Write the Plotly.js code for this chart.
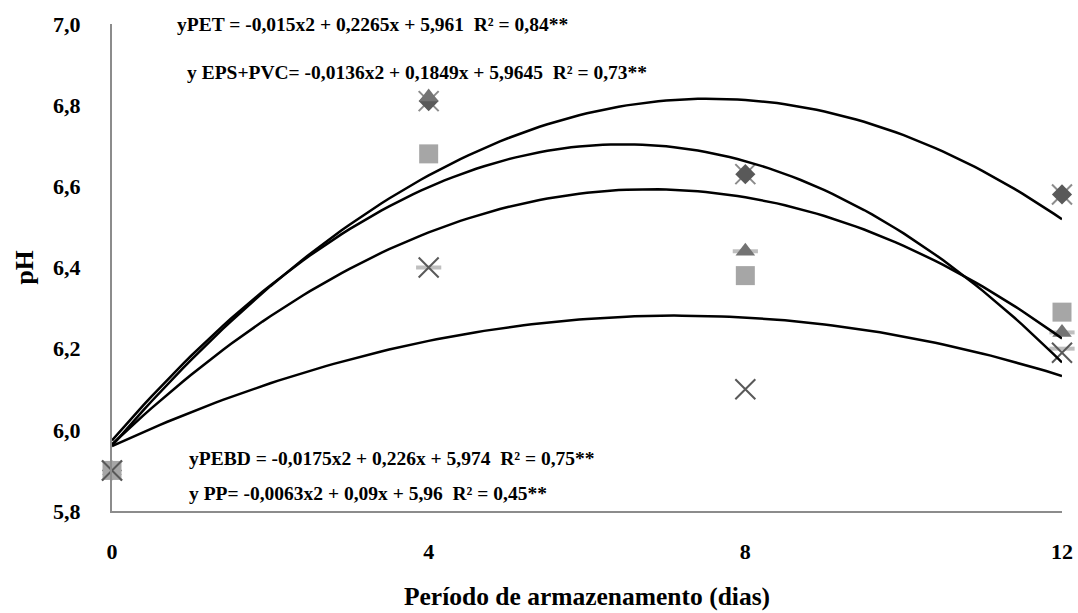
<!DOCTYPE html>
<html>
<head>
<meta charset="utf-8">
<script src="https://cdn.plot.ly/plotly-3.0.1.min.js"></script>
<style>html,body{margin:0;padding:0;background:#fff;}#chart{width:1078px;height:613px;}</style>
</head>
<body>
<div id="chart"></div>
<script>
// Storage period (days)
const days = [0, 4, 8, 12];
// pH observations per packaging
const pET = [5.90, 6.81, 6.63, 6.58];
const epsPvc = [5.90, 6.68, 6.38, 6.29];
const pEBD = [5.90, 6.82, 6.44, 6.24];
const pP = [5.90, 6.40, 6.10, 6.19];
// faint extra markers visible in the picture
const faintX = [5.90, 6.81, 6.63, 6.58];
const faintDashX = [4, 8, 12, 12];
const faintDashY = [6.40, 6.44, 6.24, 6.20];
// Trendline coefficients [a, b, c] for y = a x^2 + b x + c
const coefPET = [-0.015, 0.2265, 5.961];
const coefEPS = [-0.0136, 0.1849, 5.9645];
const coefPEBD = [-0.0175, 0.226, 5.974];
const coefPP = [-0.0063, 0.09, 5.96];
const equations = [
  "yPET = -0,015x2 + 0,2265x + 5,961  R² = 0,84**",
  "y EPS+PVC= -0,0136x2 + 0,1849x + 5,9645  R² = 0,73**",
  "yPEBD = -0,0175x2 + 0,226x + 5,974  R² = 0,75**",
  "y PP= -0,0063x2 + 0,09x + 5,96  R² = 0,45**"
];
const tickVals = [5.8, 6.0, 6.2, 6.4, 6.6, 6.8, 7.0];
const tickText = ["5,8", "6,0", "6,2", "6,4", "6,6", "6,8", "7,0"];

function trend(c) {
  const xs = [], ys = [];
  for (let i = 0; i <= 120; i++) {
    const x = i * 0.1;
    xs.push(x);
    ys.push(c[0] * x * x + c[1] * x + c[2]);
  }
  return {x: xs, y: ys, mode: 'lines', line: {color: '#000', width: 2.5}, hoverinfo: 'skip', showlegend: false, cliponaxis: false};
}

const font = '"Liberation Serif", "Times New Roman", serif';

const traces = [
  {x: faintDashX, y: faintDashY, mode: 'markers', marker: {symbol: 'line-ew', size: 18, line: {color: '#bfbfbf', width: 4}}, showlegend: false, cliponaxis: false},
  {x: days, y: faintX, mode: 'markers', marker: {symbol: 'x-thin', size: 20, line: {color: '#8c8c8c', width: 2}}, showlegend: false, cliponaxis: false},
  {x: days, y: pET, mode: 'markers', name: 'PET', marker: {symbol: 'diamond', size: 15.5, color: '#595959'}, showlegend: false, cliponaxis: false},
  {x: days, y: pEBD, mode: 'markers', name: 'PEBD', marker: {symbol: 'triangle-up', size: 17, color: '#737373'}, showlegend: false, cliponaxis: false},
  {x: days, y: epsPvc, mode: 'markers', name: 'EPS+PVC', marker: {symbol: 'square', size: 19, color: '#a6a6a6'}, showlegend: false, cliponaxis: false},
  {x: days, y: pP, mode: 'markers', name: 'PP', marker: {symbol: 'x-thin', size: 20, line: {color: '#595959', width: 2}}, showlegend: false, cliponaxis: false},
  trend(coefPET), trend(coefEPS), trend(coefPEBD), trend(coefPP)
];

const annFont = {family: font, size: 19.5, color: '#000', weight: 'bold'};
const layout = {
  width: 1078, height: 613,
  margin: {l: 112, r: 16, t: 24, b: 102},
  paper_bgcolor: '#fff', plot_bgcolor: '#fff',
  showlegend: false,
  font: {family: font, color: '#000'},
  xaxis: {
    range: [0, 12], tickvals: days, ticktext: days.map(String),
    showgrid: false, zeroline: false, showline: true, linecolor: '#8c8c8c', linewidth: 2,
    ticks: '', ticklabelstandoff: 20,
    tickfont: {family: font, size: 22, color: '#000', weight: 'bold'},
    title: {text: 'Período de armazenamento (dias)', font: {family: font, size: 25.5, color: '#000', weight: 'bold'}, standoff: 24}
  },
  yaxis: {
    range: [5.8, 7.0], tickvals: tickVals, ticktext: tickText,
    showgrid: false, zeroline: false, showline: true, linecolor: '#8c8c8c', linewidth: 2,
    ticks: '', ticklabelstandoff: 25,
    tickfont: {family: font, size: 22, color: '#000', weight: 'bold'},
    title: {text: 'pH', font: {family: font, size: 25.5, color: '#000', weight: 'bold'}, standoff: 12}
  },
  annotations: [
    {xref: 'paper', yref: 'paper', x: (175 - 112) / 950, y: (511 - 24) / 487, xanchor: 'left', yanchor: 'middle', text: equations[0], showarrow: false, font: annFont},
    {xref: 'paper', yref: 'paper', x: (185 - 112) / 950, y: (511 - 72) / 487, xanchor: 'left', yanchor: 'middle', text: equations[1], showarrow: false, font: annFont},
    {xref: 'paper', yref: 'paper', x: (187 - 112) / 950, y: (511 - 458) / 487, xanchor: 'left', yanchor: 'middle', text: equations[2], showarrow: false, font: annFont},
    {xref: 'paper', yref: 'paper', x: (187 - 112) / 950, y: (511 - 493) / 487, xanchor: 'left', yanchor: 'middle', text: equations[3], showarrow: false, font: annFont}
  ]
};

Plotly.newPlot('chart', traces, layout, {staticPlot: true, displayModeBar: false});
</script>
</body>
</html>
